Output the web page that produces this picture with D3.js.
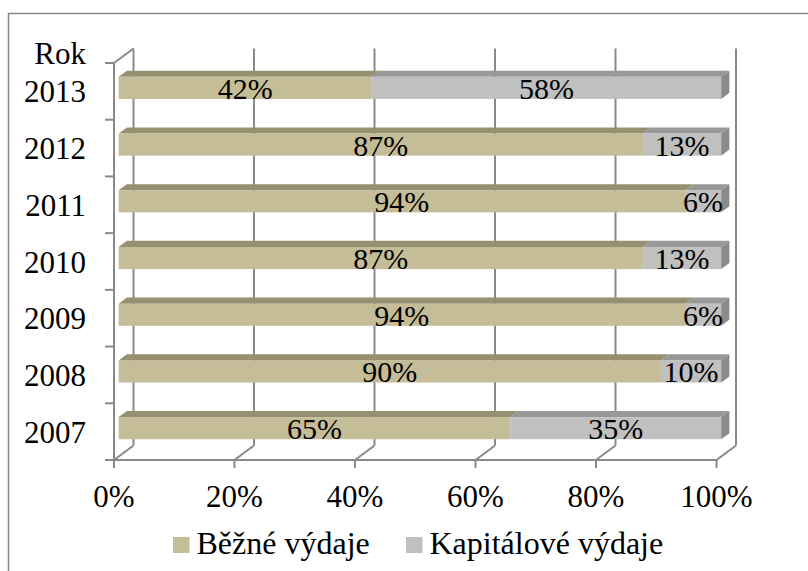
<!DOCTYPE html>
<html>
<head>
<meta charset="utf-8">
<script src="https://cdn.jsdelivr.net/npm/d3@7/dist/d3.min.js"></script>
<style>
  html, body { margin: 0; padding: 0; background: #fff; }
  svg { display: block; }
  svg text { font-family: "Liberation Serif", "Times New Roman", Times, "DejaVu Serif", serif; }
</style>
</head>
<body>
<div id="chart"></div>
<script>
// Chart data.
const years = ["2013", "2012", "2011", "2010", "2009", "2008", "2007"];
const bezne = [42, 87, 94, 87, 94, 90, 65];
const kapitalove = [58, 13, 6, 13, 6, 10, 35];
const seriesNames = ["Běžné výdaje", "Kapitálové výdaje"];
const xTicks = [0, 20, 40, 60, 80, 100];

const W = 808, H = 571;

// Geometry of the pseudo-3D plot (front plane + depth vector).
const FRONT_LEFT = 114, FRONT_RIGHT = 716.5;
const TOP = 63, FLOOR = 460;
const DEPTH = { x: 19.5, y: -14.5 };
const BAR_Z0 = 0.24, BAR_Z1 = 0.66;   // bar front/back as fraction of depth
const BAR_FRAC = 0.39;                  // bar front height / band height

const STYLE = {
  grid: "#898989",
  front: ["#c4bd97", "#c0c0c0"],
  top: ["#968f70", "#989898"],
  side: ["#8e8868", "#8a8a8a"],
};

const svg = d3.select("#chart").append("svg")
  .attr("width", W).attr("height", H)
  .attr("viewBox", `0 0 ${W} ${H}`);

// outer chart-area frame (runs off the right / bottom edge)
svg.append("rect")
  .attr("x", 8.5).attr("y", 13.5)
  .attr("width", 900).attr("height", 700)
  .attr("fill", "none")
  .attr("stroke", STYLE.grid)
  .attr("stroke-width", 1.5);

const x = d3.scaleLinear().domain([0, 100]).range([FRONT_LEFT, FRONT_RIGHT]);
const y = d3.scaleBand().domain(years).range([TOP, FLOOR]).paddingInner(0).paddingOuter(0);

const line = (g, x1, y1, x2, y2) => g.append("line")
  .attr("x1", x1).attr("y1", y1).attr("x2", x2).attr("y2", y2)
  .attr("stroke", STYLE.grid).attr("stroke-width", 2);

// --- walls and floor -------------------------------------------------------
const walls = svg.append("g").attr("class", "walls");

// back-wall gridlines + floor diagonals
xTicks.forEach((t) => {
  const fx = x(t);
  line(walls, fx + DEPTH.x, TOP + DEPTH.y, fx + DEPTH.x, FLOOR + DEPTH.y);
  line(walls, fx, FLOOR, fx + DEPTH.x, FLOOR + DEPTH.y);
});
// left wall top edge
line(walls, FRONT_LEFT, TOP, FRONT_LEFT + DEPTH.x, TOP + DEPTH.y);

// front axes
line(walls, FRONT_LEFT, TOP, FRONT_LEFT, FLOOR);
line(walls, FRONT_LEFT, FLOOR, FRONT_RIGHT, FLOOR);
const bandEdges = years.map((yr) => y(yr)).concat([FLOOR]);
bandEdges.forEach((by) => line(walls, FRONT_LEFT - 9, by, FRONT_LEFT, by));
xTicks.forEach((t) => line(walls, x(t), FLOOR, x(t), FLOOR + 8));

// --- bars -------------------------------------------------------------------
const rows = years.map((yr, i) => {
  let acc = 0;
  const segs = [bezne[i], kapitalove[i]].map((v, s) => {
    const seg = { year: yr, series: s, v0: acc, v1: acc + v, value: v };
    acc += v;
    return seg;
  });
  return { year: yr, segs };
});

const bh = y.bandwidth() * BAR_FRAC;
const zx0 = DEPTH.x * BAR_Z0, zy0 = DEPTH.y * BAR_Z0;
const zx1 = DEPTH.x * BAR_Z1, zy1 = DEPTH.y * BAR_Z1;

const bars = svg.append("g").attr("class", "bars");
rows.forEach((row) => {
  const cy = y(row.year) + y.bandwidth() / 2;
  const yTop = cy - bh / 2 + zy0;
  const yBot = cy + bh / 2 + zy0;
  const g = bars.append("g");
  row.segs.forEach((sg, k) => {
    const xa = x(sg.v0) + zx0, xb = x(sg.v1) + zx0;
    // top face
    g.append("polygon")
      .attr("points", [
        [xa, yTop], [xb, yTop],
        [xb + (zx1 - zx0), yTop + (zy1 - zy0)],
        [xa + (zx1 - zx0), yTop + (zy1 - zy0)],
      ].map((p) => p.join(",")).join(" "))
      .attr("fill", STYLE.top[sg.series]);
    // front face
    g.append("rect")
      .attr("x", xa).attr("y", yTop)
      .attr("width", xb - xa).attr("height", yBot - yTop)
      .attr("fill", STYLE.front[sg.series]);
    // right end face on the last segment
    if (k === row.segs.length - 1) {
      g.append("polygon")
        .attr("points", [
          [xb, yTop], [xb + (zx1 - zx0), yTop + (zy1 - zy0)],
          [xb + (zx1 - zx0), yBot + (zy1 - zy0)], [xb, yBot],
        ].map((p) => p.join(",")).join(" "))
        .attr("fill", STYLE.side[sg.series]);
    }
  });
});

// data labels centred on each segment's front face
const labels = svg.append("g").attr("class", "labels")
  .attr("font-size", "30px").attr("fill", "#000");
rows.forEach((row) => {
  const cy = y(row.year) + y.bandwidth() / 2 + zy0;
  row.segs.forEach((sg) => {
    labels.append("text")
      .attr("x", (x(sg.v0) + x(sg.v1)) / 2 + zx0)
      .attr("y", cy + 11)
      .attr("text-anchor", "middle")
      .text(`${sg.value}%`);
  });
});

// --- axis text --------------------------------------------------------------
const axisText = svg.append("g")
  .attr("font-size", "31px").attr("fill", "#000");

years.forEach((yr) => {
  axisText.append("text")
    .attr("x", 86)
    .attr("y", y(yr) + y.bandwidth() / 2 + 11)
    .attr("text-anchor", "end")
    .text(yr);
});
axisText.append("text")
  .attr("x", 86).attr("y", 64)
  .attr("text-anchor", "end")
  .text("Rok");

xTicks.forEach((t) => {
  axisText.append("text")
    .attr("x", x(t)).attr("y", 507)
    .attr("text-anchor", "middle")
    .text(`${t}%`);
});

// --- legend -----------------------------------------------------------------
const legendX = [173, 406];
const legend = svg.append("g")
  .attr("font-size", "32px").attr("fill", "#000");
seriesNames.forEach((name, i) => {
  legend.append("rect")
    .attr("x", legendX[i]).attr("y", 537)
    .attr("width", 16.5).attr("height", 16)
    .attr("fill", STYLE.front[i]);
  legend.append("text")
    .attr("x", legendX[i] + 23.5).attr("y", 553.5)
    .text(name);
});
</script>
</body>
</html>
